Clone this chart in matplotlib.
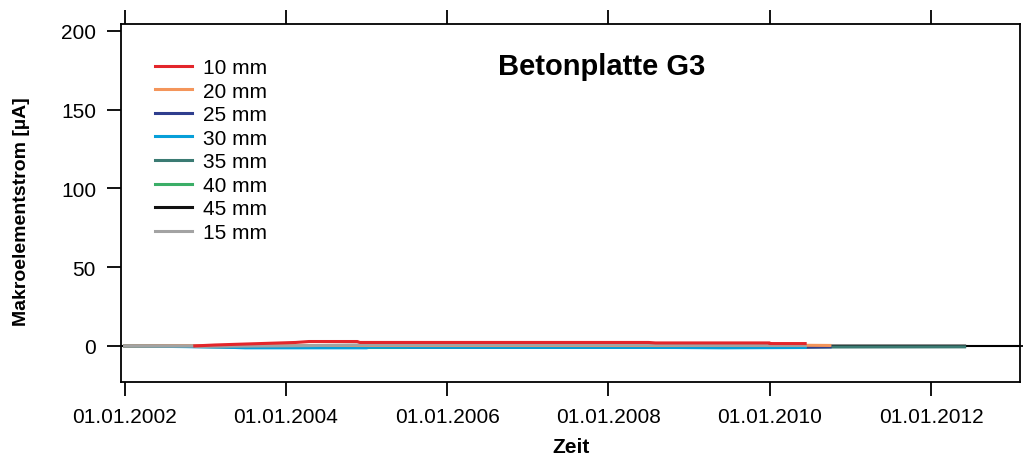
import numpy as np
import pandas as pd
import matplotlib
matplotlib.use('Agg')
import matplotlib.pyplot as plt
import matplotlib.dates as mdates

plt.rcParams['font.family'] = ['Liberation Sans', 'DejaVu Sans']

# Messwerte Makroelementstrom [uA], Betonplatte G3
d10 = ['2002-11-15', '2003-02-15', '2003-05-15', '2003-08-15', '2003-11-15',
       '2004-02-15', '2004-04-15', '2004-11-20', '2004-12-01', '2008-07-01', '2008-08-01',
       '2009-03-01', '2009-12-31', '2010-01-01', '2010-06-10']
v10 = [0.0, 0.6, 1.0, 1.4, 1.8, 2.2, 2.8, 2.8, 2.2, 2.2, 1.9, 1.9, 1.9, 1.5, 1.5]

d15 = ['2002-01-01', '2002-11-15', '2002-11-20', '2004-04-15', '2004-11-20', '2008-08-01',
       '2009-02-01', '2010-06-10']
v15 = [0.0, 0.0, -0.3, 0.2, 0.6, 0.6, 0.4, 0.4]

d20 = ['2002-01-01', '2003-06-01', '2008-08-01', '2010-06-10', '2010-09-30']
v20 = [0.0, 0.3, 0.3, 0.4, 0.3]

d25 = ['2002-01-01', '2003-05-01', '2005-06-01', '2008-08-01', '2010-06-10', '2010-10-01']
v25 = [0.0, -0.6, -0.8, -0.8, -0.8, -0.6]

d30 = ['2002-01-01', '2003-03-15', '2003-07-01', '2005-01-01', '2005-01-15', '2008-11-01',
       '2009-06-01', '2010-06-10']
v30 = [0.0, -0.7, -1.2, -1.2, -0.8, -1.0, -1.2, -1.0]

d35 = ['2002-01-01', '2003-06-01', '2005-06-01', '2008-08-01', '2010-06-10', '2012-06-01']
v35 = [0.0, -0.5, -0.7, -0.9, -0.7, -0.6]

d40 = ['2002-01-01', '2003-06-01', '2005-01-01', '2005-07-01', '2005-07-15', '2010-06-10']
v40 = [0.0, -0.6, -1.0, -1.0, -0.6, -0.6]

d45 = ['2002-01-01', '2003-06-01', '2008-08-01', '2010-06-10', '2010-09-30', '2012-06-01']
v45 = [0.0, -0.3, -0.5, -0.4, -0.1, -0.1]

labels = ['10 mm', '20 mm', '25 mm', '30 mm', '35 mm', '40 mm', '45 mm', '15 mm']
colors = ['#e3262b', '#f4955b', '#2f3e8e', '#079fd9', '#3b7b73', '#3bae67', '#111111', '#a3a3a3']
dates = [d10, d20, d25, d30, d35, d40, d45, d15]
values = [v10, v20, v25, v30, v35, v40, v45, v15]
zorders = [10, 8, 4, 6, 3, 5, 2, 9]

fig = plt.figure(figsize=(10.23, 4.6), dpi=100)
ax = fig.add_axes([0.1183, 0.1674, 0.879, 0.7783])

ax.axhline(0, color='black', lw=1.5, zorder=1)

handles = []
for d, v, c, lab, z in zip(dates, values, colors, labels, zorders):
    h, = ax.plot(pd.to_datetime(d), v, color=c, lw=2.2, label=lab, zorder=z)
    handles.append(h)

ax.set_xlim(pd.Timestamp('2001-12-16'), pd.Timestamp('2013-02-08'))
ax.set_ylim(-22.9, 204.4)
ax.set_yticks([0, 50, 100, 150, 200])

ax.xaxis.set_major_locator(mdates.YearLocator(2))
ax.xaxis.set_major_formatter(mdates.DateFormatter('%d.%m.%Y'))

ax.tick_params(axis='both', direction='out', length=10, width=1.3, labelsize=15, pad=8)
ax.tick_params(axis='x', top=True)
for s in ax.spines.values():
    s.set_linewidth(1.3)

sec = ax.secondary_yaxis('right')
sec.set_yticks([0])
sec.set_yticklabels([])
sec.tick_params(direction='inout', length=8, width=1.3)
sec.spines['right'].set_visible(False)

ax.set_xlabel('Zeit', fontsize=15, fontweight='bold', labelpad=8)
ax.set_ylabel('Makroelementstrom [µA]', fontsize=14, fontweight='bold')
ax.yaxis.set_label_coords(-0.101, 0.478)

ax.text(0.535, 0.883, 'Betonplatte G3', transform=ax.transAxes, fontsize=21,
        fontweight='bold', ha='center', va='center')

ax.legend(handles=handles, loc='upper left', bbox_to_anchor=(0.038, 0.905), frameon=False,
          fontsize=15, handlelength=1.78, handletextpad=0.5, labelspacing=0.22,
          borderaxespad=0.0, borderpad=0.0)

fig.savefig('out.png', dpi=100)
